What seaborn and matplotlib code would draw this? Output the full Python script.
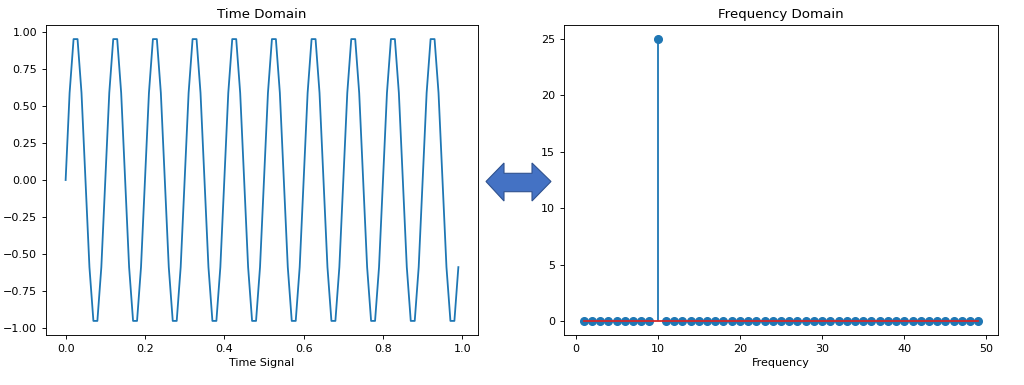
import matplotlib
matplotlib.use("Agg")
import matplotlib.pyplot as plt
import seaborn as sns
import numpy as np
import pandas as pd
from matplotlib.patches import Polygon

# ---- data ----
time_s = [round(0.01 * i, 2) for i in range(100)]
signal = [
    0.0, 0.588, 0.951, 0.951, 0.588, 0.0, -0.588, -0.951, -0.951, -0.588,
    0.0, 0.588, 0.951, 0.951, 0.588, 0.0, -0.588, -0.951, -0.951, -0.588,
    0.0, 0.588, 0.951, 0.951, 0.588, 0.0, -0.588, -0.951, -0.951, -0.588,
    0.0, 0.588, 0.951, 0.951, 0.588, 0.0, -0.588, -0.951, -0.951, -0.588,
    0.0, 0.588, 0.951, 0.951, 0.588, 0.0, -0.588, -0.951, -0.951, -0.588,
    0.0, 0.588, 0.951, 0.951, 0.588, 0.0, -0.588, -0.951, -0.951, -0.588,
    0.0, 0.588, 0.951, 0.951, 0.588, 0.0, -0.588, -0.951, -0.951, -0.588,
    0.0, 0.588, 0.951, 0.951, 0.588, 0.0, -0.588, -0.951, -0.951, -0.588,
    0.0, 0.588, 0.951, 0.951, 0.588, 0.0, -0.588, -0.951, -0.951, -0.588,
    0.0, 0.588, 0.951, 0.951, 0.588, 0.0, -0.588, -0.951, -0.951, -0.588,
]
frequencies = list(range(1, 50))
magnitudes = [
    0, 0, 0, 0, 0, 0, 0, 0, 0, 25,
    0, 0, 0, 0, 0, 0, 0, 0, 0, 0,
    0, 0, 0, 0, 0, 0, 0, 0, 0, 0,
    0, 0, 0, 0, 0, 0, 0, 0, 0, 0,
    0, 0, 0, 0, 0, 0, 0, 0, 0,
]

plt.rcParams['font.family'] = ['DejaVu Sans']
plt.rcParams['font.size'] = 8.0
plt.rcParams['axes.titlesize'] = 9.6
plt.rcParams['axes.labelsize'] = 8.0
plt.rcParams['xtick.labelsize'] = 8.0
plt.rcParams['ytick.labelsize'] = 8.0
plt.rcParams['xtick.major.size'] = 2.9
plt.rcParams['ytick.major.size'] = 2.9
plt.rcParams['xtick.major.width'] = 0.65
plt.rcParams['ytick.major.width'] = 0.65
plt.rcParams['axes.linewidth'] = 0.65
plt.rcParams['axes.titlepad'] = 5
plt.rcParams['axes.labelpad'] = 3

W, H = 1024, 385
fig = plt.figure(figsize=(W / 100, H / 100), dpi=100)

def ax_rect(x0, x1, y0, y1):
    return [x0 / W, 1 - y1 / H, (x1 - x0) / W, (y1 - y0) / H]

ax1 = fig.add_axes(ax_rect(46, 478, 25, 335))
ax2 = fig.add_axes(ax_rect(564, 998, 25, 335))

df_time = pd.DataFrame({"t": time_s, "y": signal})
sns.lineplot(data=df_time, x="t", y="y", ax=ax1, color="#1f77b4", linewidth=1.3)
ax1.set_title("Time Domain")
ax1.set_xlabel("Time Signal")
ax1.set_ylabel("")
ax1.set_yticks([-1.0, -0.75, -0.5, -0.25, 0.0, 0.25, 0.5, 0.75, 1.0])

markerline, stemlines, baseline = ax2.stem(frequencies, magnitudes)
plt.setp(markerline, color="#1f77b4", markersize=5.5)
plt.setp(stemlines, color="#1f77b4", linewidth=1.3)
plt.setp(baseline, color="#d62728", linewidth=1.3)
ax2.set_title("Frequency Domain")
ax2.set_xlabel("Frequency")
ax2.set_xticks([0, 10, 20, 30, 40, 50])
ax2.set_yticks([0, 5, 10, 15, 20, 25])

# double arrow between panels (pixel coords)
pts = [
    (486, 181.5), (504, 163), (504, 173.3), (532, 173.3), (532, 163),
    (551, 181.5), (532, 201), (532, 191.7), (504, 191.7), (504, 201),
]
poly = Polygon([(x / W, 1 - y / H) for x, y in pts], closed=True,
               transform=fig.transFigure, facecolor="#4472C4",
               edgecolor="#2F528F", linewidth=0.8)
fig.patches.append(poly)

fig.savefig("out.png", dpi=100)
